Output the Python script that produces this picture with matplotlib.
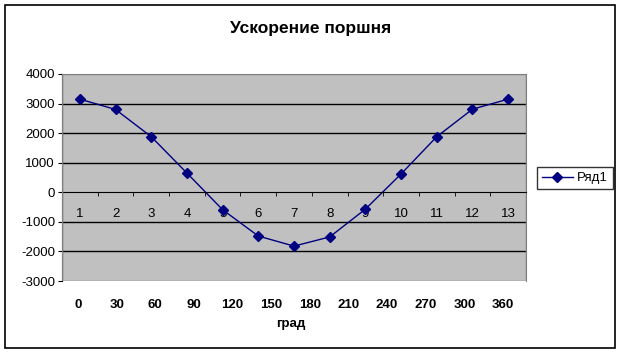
import matplotlib
matplotlib.use("Agg")
import matplotlib.pyplot as plt
from matplotlib.patches import Rectangle

plt.rcParams['font.family'] = ['Liberation Sans', 'DejaVu Sans']
plt.rcParams['axes.unicode_minus'] = False

# data
points = list(range(1, 14))
accel = [3150, 2800, 1880, 650, -590, -1480, -1820, -1510, -570, 620, 1880, 2810, 3150]
angles = [0, 30, 60, 90, 120, 150, 180, 210, 240, 270, 300, 360]

W, H = 622, 354
fig = plt.figure(figsize=(W / 100, H / 100), dpi=100)

# outer chart border
fig.patches.append(Rectangle((5 / W, 6 / H), 610 / W, 343 / H, transform=fig.transFigure,
                             fill=False, edgecolor='black', linewidth=1.2))

ax = fig.add_axes([62 / W, 1 - 281 / H, 464 / W, 207 / H])
ax.set_facecolor('#C0C0C0')
ax.plot(points, accel, color='#000080', linewidth=1, marker='D', markersize=4.8,
        label='Ряд1')
ax.set_xlim(0.5, 13.5)
ax.set_ylim(-3000, 4000)
ax.set_yticks(range(-3000, 4001, 1000))
for yv in [-2000, -1000, 1000, 2000, 3000]:
    ax.axhline(yv, color='black', linewidth=1, zorder=0.5)

for s in ['top', 'right']:
    ax.spines[s].set_color('#808080')
ax.spines['left'].set_color('black')
ax.spines['bottom'].set_position(('data', 0))
ax.spines['bottom'].set_color('black')

ax.set_xticks(points)
ax.set_xticklabels([str(p) for p in points])
ax.set_xticks([p + 0.5 for p in points[:-1]], minor=True)
ax.tick_params(axis='x', which='major', length=0, pad=11.5, labelsize=9.5)
ax.tick_params(axis='x', which='minor', length=3, direction='out')
ax.tick_params(axis='y', length=3, labelsize=9.5, pad=2)

# frame of plot area
ax.add_patch(Rectangle((0, 0), 1, 1, transform=ax.transAxes, fill=False,
                       edgecolor='#808080', linewidth=1, zorder=3))

fig.text(311 / W, 1 - 28 / H, 'Ускорение поршня', fontsize=12.5,
         fontweight='bold', ha='center', va='center')

leg = ax.legend(loc='center left', bbox_to_anchor=(537 / W, 1 - 178 / H),
                bbox_transform=fig.transFigure, fontsize=9.5, frameon=True,
                fancybox=False, handlelength=2.4, handletextpad=0.3,
                borderpad=0.35, borderaxespad=0)
leg.get_frame().set_edgecolor('black')
leg.get_frame().set_linewidth(1)

# row of angle labels
ax2 = fig.add_axes([58.7 / W, 1 - 296 / H, 463.6 / W, 0.001])
ax2.set_xlim(-0.5, len(angles) - 0.5)
ax2.set_xticks(range(len(angles)))
ax2.set_xticklabels([str(a) for a in angles], fontweight='bold')
ax2.tick_params(axis='x', length=0, labelsize=9.5, pad=2.5)
ax2.set_yticks([])
for s in ax2.spines.values():
    s.set_visible(False)
ax2.patch.set_visible(False)
ax2.set_xlabel('град', fontsize=9.5, fontweight='bold', labelpad=5)

fig.savefig('out.png', dpi=100)
